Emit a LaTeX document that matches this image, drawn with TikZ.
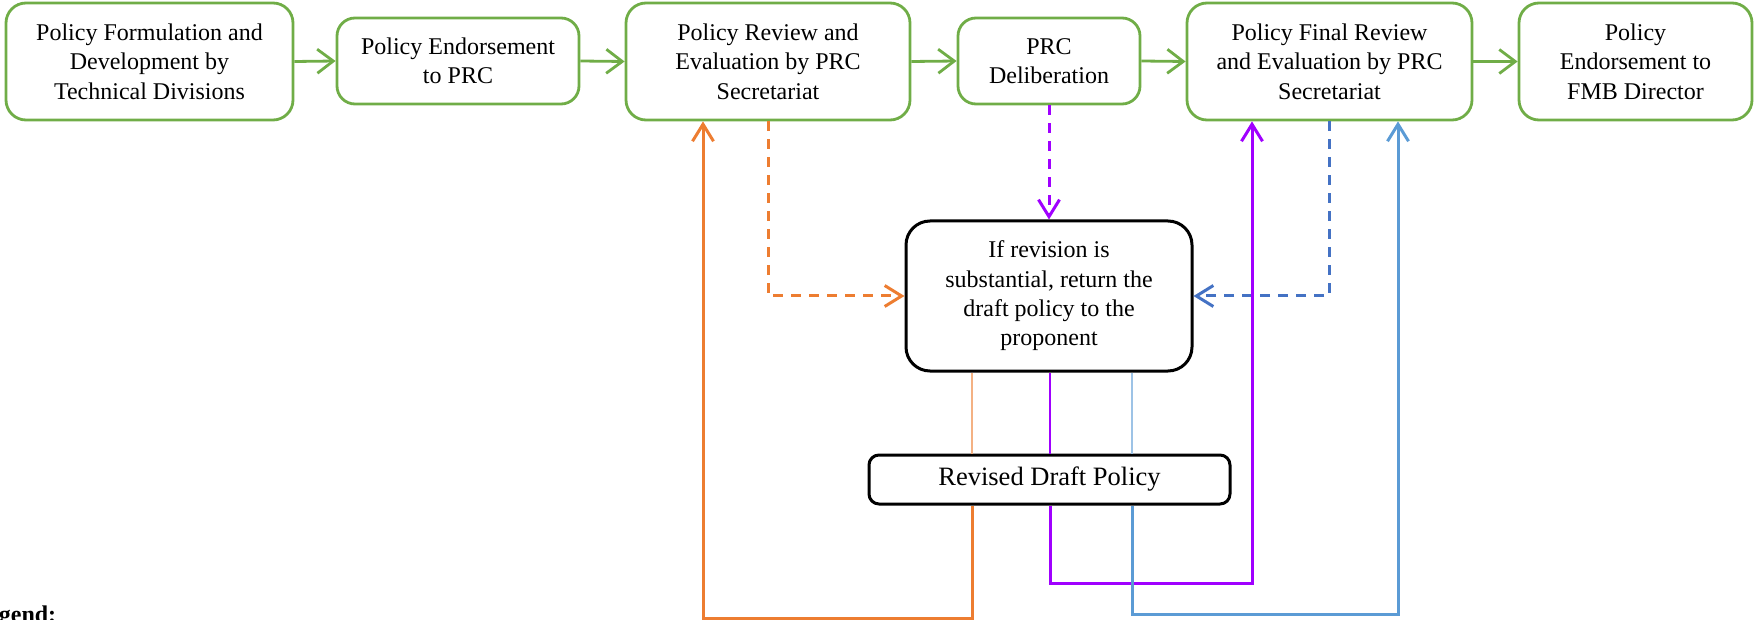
\documentclass[tikz,border=0pt]{standalone}
\usepackage{fontspec}
\setmainfont{Liberation Serif}
\usetikzlibrary{arrows.meta}
\definecolor{gr}{HTML}{70AD47}
\definecolor{orng}{HTML}{ED7D31}
\definecolor{orngl}{HTML}{F4B183}
\definecolor{purp}{HTML}{A000FF}
\definecolor{bluedash}{HTML}{4472C4}
\definecolor{bluesol}{HTML}{5B9BD5}
\definecolor{bluel}{HTML}{9DC3E6}
\tikzset{
  gbox/.style={draw=gr, line width=2.8pt, rounded corners=20pt, align=center, inner sep=0pt,
    font=\fontsize{24}{29.3}\selectfont},
  cbox/.style={draw=black, line width=3pt, rounded corners=24pt, align=center, inner sep=0pt,
    font=\fontsize{24}{29.3}\selectfont},
  rbox/.style={draw=black, line width=3pt, rounded corners=10pt, align=center, inner sep=0pt,
    font=\fontsize{26.5}{30}\selectfont},
  garrow/.style={draw=gr, line width=2.8pt, -{Straight Barb[length=16pt,width=24pt,line width=2.8pt]}},
  carrow/.style={line width=3pt, -{Straight Barb[length=17pt,width=21pt,line width=3pt]}},
  dsh/.style={dash pattern=on 10pt off 8pt},
  thinline/.style={line width=1.5pt},
}
\begin{document}
\begin{tikzpicture}[x=1pt,y=-1pt]
\useasboundingbox (0,0) rectangle (1754,620);
% top row
\node[gbox, minimum width=287pt, minimum height=117pt] (b1) at (149.5,61.5)
  {Policy Formulation and\\Development by\\Technical Divisions};
\node[gbox, minimum width=242pt, minimum height=86pt, rounded corners=18pt] (b2) at (458,61)
  {Policy Endorsement\\to PRC};
\node[gbox, minimum width=284pt, minimum height=117pt] (b3) at (768,61.5)
  {Policy Review and\\Evaluation by PRC\\Secretariat};
\node[gbox, minimum width=182pt, minimum height=86pt, rounded corners=18pt] (b4) at (1049,61)
  {PRC\\Deliberation};
\node[gbox, minimum width=285pt, minimum height=117pt] (b5) at (1329.5,61.5)
  {Policy Final Review\\and Evaluation by PRC\\Secretariat};
\node[gbox, minimum width=233pt, minimum height=117pt] (b6) at (1635.5,61.5)
  {Policy\\Endorsement to\\FMB Director};
% middle
\node[cbox, minimum width=286pt, minimum height=150pt] (c) at (1049,296)
  {If revision is\\substantial, return the\\draft policy to the\\proponent};
\node[rbox, minimum width=361pt, minimum height=49pt] (r) at (1049.5,479.5)
  {Revised Draft Policy};
% legend
\node[anchor=base west, inner sep=0pt, font=\fontsize{24}{29}\selectfont\bfseries] (legend) at (-28,622) {Legend:};
% green flow
\draw[garrow] (b1.east) -- (b2.west);
\draw[garrow] (b2.east) -- (b3.west);
\draw[garrow] (b3.east) -- (b4.west);
\draw[garrow] (b4.east) -- (b5.west);
\draw[garrow] (b5.east) -- (b6.west);
% dashed returns
\draw[carrow, dsh, draw=orng] (b3.south) -- (b3.south |- c.west) -- (c.west);
\draw[carrow, dsh, draw=purp] (b4.south) -- (c.north);
\draw[carrow, dsh, draw=bluedash] (b5.south) -- (b5.south |- c.east) -- (c.east);
% coordinates of the three return lines
\coordinate (xo) at (972,0);
\coordinate (xp) at (1050,0);
\coordinate (xb) at (1132,0);
\coordinate (ob) at (703,618);
\coordinate (pb) at (1252,583);
\coordinate (bb) at (1398,614);
% thin links
\draw[thinline, draw=orngl] (xo |- c.south) -- (xo |- r.north);
\draw[thinline, draw=purp] (xp |- c.south) -- (xp |- r.north);
\draw[thinline, draw=bluel] (xb |- c.south) -- (xb |- r.north);
% solid returns
\draw[carrow, draw=orng] (xo |- r.south) |- (ob) -- (ob |- b3.south);
\draw[carrow, draw=purp] (xp |- r.south) |- (pb) -- (pb |- b5.south);
\draw[carrow, draw=bluesol] (xb |- r.south) |- (bb) -- (bb |- b5.south);
\end{tikzpicture}
\end{document}
